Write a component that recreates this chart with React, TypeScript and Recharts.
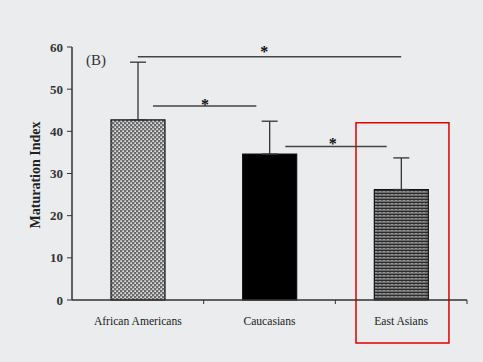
import { Bar, BarChart, Cell, ErrorBar, ReferenceArea, ReferenceDot, ReferenceLine, XAxis, YAxis } from "recharts"

const groups = ["African Americans", "Caucasians", "East Asians"]
const positions = [0.5, 1.5, 2.5]
const means = [42.7, 34.6, 26.2]
const sdUp = [13.7, 7.8, 7.5]
const yTicks = [0, 10, 20, 30, 40, 50, 60]
const xTicks = [0.5, 1, 1.5, 2, 2.5, 3]

// significance brackets, x in category units (0..3)
const sigLines = [
  { x1: 0.5, x2: 2.5, y: 57.7, starX: 1.46, starY: 59.6 },
  { x1: 0.615, x2: 1.4, y: 46.0, starX: 1.01, starY: 47.1 },
  { x1: 1.62, x2: 2.39, y: 36.4, starX: 1.98, starY: 37.8 },
]

const fills = ["url(#dots)", "#000000", "url(#zigzag)"]

const data = groups.map((g, i) => ({ name: g, pos: positions[i], value: means[i], err: [0, sdUp[i]] }))

const Star = (props: any) => (
  <text x={props.cx} y={props.cy + 8.5} textAnchor="middle" fontFamily="Liberation Serif" fontWeight="bold" fontSize={16} fill="#111">
    *
  </text>
)

const XTick = (props: any) => {
  const { x, y, payload } = props
  const idx = positions.indexOf(payload.value)
  if (idx >= 0) {
    return (
      <text x={x} y={y + 25} textAnchor="middle" fontFamily="Liberation Serif" fontSize={11.6} fill="#222">
        {groups[idx]}
      </text>
    )
  }
  return <line x1={x} y1={y} x2={x} y2={y + 4} stroke="#333" strokeWidth={1} />
}

const App = () => {
  return (
    <div style={{ position: "absolute", left: 0, top: 0, width: 483, height: 362, background: "#eaeced" }}>
      <BarChart width={483} height={362} data={data} margin={{ top: 47, right: 16, left: 0, bottom: 32 }}>
        <defs>
          <pattern id="dots" width="4" height="4" patternUnits="userSpaceOnUse">
            <rect width="4" height="4" fill="#6a6a6a" />
            <rect x="0.4" y="0.3" width="1.5" height="1.7" fill="#f2f2f2" />
            <rect x="2.4" y="2.3" width="1.5" height="1.7" fill="#f2f2f2" />
          </pattern>
          <pattern id="zigzag" width="4" height="3" patternUnits="userSpaceOnUse">
            <rect width="4" height="3" fill="#b8b8b8" />
            <path d="M0,2.3 L1,0.7 L2,2.3 L3,0.7 L4,2.3" stroke="#2a2a2a" strokeWidth="1.1" fill="none" />
          </pattern>
        </defs>
        <XAxis
          dataKey="pos"
          type="number"
          domain={[0, 3]}
          ticks={xTicks}
          height={30}
          tickSize={0}
          tickMargin={0}
          tickLine={false}
          axisLine={{ stroke: "#333", strokeWidth: 1.5 }}
          tick={<XTick />}
          interval={0}
          allowDataOverflow
        />
        <YAxis
          width={72}
          domain={[0, 60]}
          ticks={yTicks}
          tickSize={5}
          tickMargin={4}
          axisLine={{ stroke: "#333", strokeWidth: 1.5 }}
          tickLine={{ stroke: "#333" }}
          tick={{ fontFamily: "Liberation Serif", fontSize: 13, fontWeight: "bold", fill: "#333" }}
          label={{
            value: "Maturation Index",
            angle: -90,
            position: "insideLeft",
            dx: 30,
            dy: 55,
            style: { fontFamily: "Liberation Serif", fontSize: 14, fontWeight: "bold", fill: "#222" },
          }}
        />
        <Bar dataKey="value" barSize={54} stroke="#111" strokeWidth={1.2} isAnimationActive={false}>
          {data.map((d, i) => (
            <Cell key={d.name} fill={fills[i]} />
          ))}
          <ErrorBar dataKey="err" direction="y" width={8} stroke="#333" strokeWidth={1.3} isAnimationActive={false} />
        </Bar>
        {sigLines.map((s, i) => (
          <ReferenceLine
            key={"l" + i}
            segment={[{ x: s.x1, y: s.y }, { x: s.x2, y: s.y }]}
            stroke="#444"
            strokeWidth={1.6}
            ifOverflow="visible"
          />
        ))}
        {sigLines.map((s, i) => (
          <ReferenceDot key={"s" + i} x={s.starX} y={s.starY} r={0} shape={Star} ifOverflow="visible" />
        ))}
        <ReferenceArea
          x1={2.157}
          x2={2.863}
          y1={-10.2}
          y2={42.05}
          fill="none"
          fillOpacity={0}
          stroke="#e00000"
          strokeWidth={1.5}
          strokeOpacity={1}
          ifOverflow="visible"
        />
      </BarChart>
      <div style={{ position: "absolute", left: 86, top: 52, fontFamily: "Liberation Serif", fontSize: 15, color: "#333" }}>
        (B)
      </div>
    </div>
  )
}

export default App
